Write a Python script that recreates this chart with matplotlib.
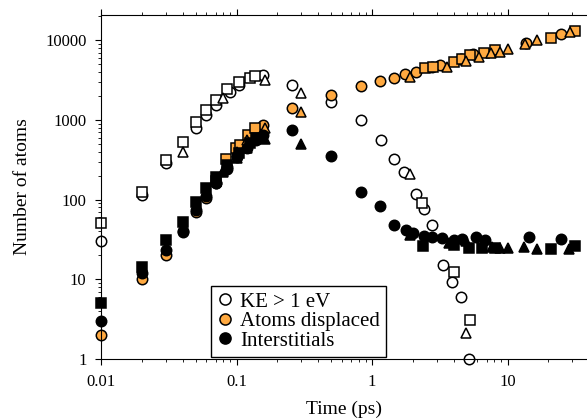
"""Number of atoms vs time (log-log): KE > 1 eV, atoms displaced, interstitials
for three runs (circle / square / triangle markers)."""

import matplotlib

matplotlib.use("Agg")
import matplotlib.pyplot as plt
from matplotlib.lines import Line2D

plt.rcParams["font.family"] = ["Liberation Serif", "DejaVu Serif"]

ORANGE = "#FFA940"

# KE > 1 eV (open markers)
ke_circle_t = [0.01, 0.02, 0.03, 0.05, 0.06, 0.07, 0.089, 0.105, 0.157, 0.257, 0.50,
               0.83, 1.16, 1.46, 1.73, 2.1, 2.4, 2.75, 3.33, 3.9, 4.54, 5.2]
ke_circle_n = [30, 115, 288, 784, 1150, 1540, 2260, 2740, 3650, 2740, 1690,
               997, 560, 323, 220, 117, 76, 48, 15, 9.2, 6.0, 1.0]
ke_square_t = [0.01, 0.02, 0.03, 0.04, 0.05, 0.06, 0.07, 0.085, 0.104, 0.125, 0.137,
               2.33, 4.0, 5.27]
ke_square_n = [51, 124, 314, 533, 950, 1330, 1780, 2420, 2950, 3390, 3530,
               90, 12.4, 3.1]
ke_tri_t = [0.04, 0.08, 0.162, 0.297, 1.9, 4.97]
ke_tri_n = [400, 1870, 3170, 2157, 208, 2.1]

# Atoms displaced (orange)
disp_circle_t = [0.01, 0.02, 0.03, 0.04, 0.05, 0.06, 0.07, 0.085, 0.10, 0.12, 0.14,
                 0.157, 0.257, 0.50, 0.83, 1.15, 1.46, 1.75, 2.1, 2.77, 3.2, 4.5,
                 5.6, 13.7, 24.8]
disp_circle_n = [2, 10, 20, 39, 70, 105, 160, 260, 380, 520, 680,
                 860, 1400, 2050, 2660, 3080, 3380, 3770, 4030, 4570, 4890, 5760,
                 6720, 9200, 11800]
disp_square_t = [0.07, 0.084, 0.099, 0.106, 0.122, 0.137, 2.45, 2.8, 4.0, 4.6,
                 5.27, 6.7, 8.1, 20.8, 31.3]
disp_square_n = [170, 320, 440, 484, 647, 784, 4440, 4650, 5400, 5760,
                 6510, 6840, 7550, 10800, 13200]
disp_tri_t = [0.08, 0.1, 0.12, 0.162, 0.297, 1.9, 3.6, 4.97, 6.2, 7.6, 8.8,
              10, 13.4, 16.5, 29]
disp_tri_n = [230, 400, 560, 797, 1270, 3410, 4650, 5530, 6100, 6990, 7210,
              7750, 9000, 9940, 12600]

# Interstitials (black)
int_circle_t = [0.01, 0.02, 0.03, 0.04, 0.05, 0.06, 0.07, 0.085, 0.10, 0.12, 0.14,
                0.157, 0.257, 0.50, 0.83, 1.14, 1.46, 1.78, 2.0, 2.4, 2.77, 3.3,
                4.0, 4.6, 5.9, 6.8, 14.3, 24.8]
int_circle_n = [3, 12, 23, 40, 75, 110, 160, 240, 340, 440, 560,
                647, 747, 352, 126, 83, 48, 41.5, 38, 35, 34, 33,
                31, 32, 34, 31, 33.6, 31.7]
int_square_t = [0.01, 0.02, 0.03, 0.04, 0.05, 0.06, 0.07, 0.085, 0.104, 0.125, 0.14,
                2.36, 4.0, 5.2, 6.5, 8.1, 20.8, 31.5]
int_square_n = [5.1, 14.4, 31, 52, 94, 138, 190, 270, 380, 520, 600,
                26, 27, 25, 25, 25, 24, 26]
int_tri_t = [0.08, 0.1, 0.12, 0.162, 0.30, 1.9, 3.7, 4.9, 7.7, 8.8, 10,
             13.2, 16.5, 28.5]
int_tri_n = [220, 330, 450, 570, 499, 36, 28.3, 30, 25.7, 25, 25,
             25.7, 23.7, 24]

series = [
    (ke_circle_t, ke_circle_n, "o", "white"),
    (ke_square_t, ke_square_n, "s", "white"),
    (ke_tri_t, ke_tri_n, "^", "white"),
    (disp_circle_t, disp_circle_n, "o", ORANGE),
    (disp_square_t, disp_square_n, "s", ORANGE),
    (disp_tri_t, disp_tri_n, "^", ORANGE),
    (int_circle_t, int_circle_n, "o", "black"),
    (int_square_t, int_square_n, "s", "black"),
    (int_tri_t, int_tri_n, "^", "black"),
]
sizes = {"o": 7.5, "s": 7.0, "^": 7.5}

fig = plt.figure(figsize=(5.87, 4.19), dpi=100)
ax = fig.add_axes([0.1721, 0.1432, 0.8279, 0.821])

for t, n, marker, face in series:
    ax.plot(t, n, linestyle="none", marker=marker, markersize=sizes[marker],
            markerfacecolor=face, markeredgecolor="black", markeredgewidth=1.1,
            clip_on=False)

ax.set_xscale("log")
ax.set_yscale("log")
ax.set_xlim(0.01, 38.6)
ax.set_ylim(1, 20700)
ax.set_xticks([0.01, 0.1, 1, 10])
ax.set_xticklabels(["0.01", "0.1", "1", "10"])
ax.set_yticks([1, 10, 100, 1000, 10000])
ax.set_yticklabels(["1", "10", "100", "1000", "10000"])
ax.spines["right"].set_visible(False)
ax.tick_params(which="both", direction="out", top=True, right=False, labelsize=12, pad=6)
ax.tick_params(which="major", length=4.5)
ax.tick_params(which="minor", length=2.5)
ax.set_xlabel("Time (ps)", fontsize=14, labelpad=8)
ax.set_ylabel("Number of atoms", fontsize=14, labelpad=10)

handles = [
    Line2D([], [], linestyle="none", marker="o", markersize=8, markerfacecolor=face,
           markeredgecolor="black", markeredgewidth=1.1)
    for face in ["white", ORANGE, "black"]
]
leg = ax.legend(handles, ["KE > 1 eV", "Atoms displaced", "Interstitials"],
                loc="lower left", bbox_to_anchor=(0.226, 0.006), borderaxespad=0,
                fontsize=15, frameon=True, fancybox=False, edgecolor="black",
                framealpha=1, handlelength=0.8, handletextpad=0.3, labelspacing=0.0,
                borderpad=0.3)
leg.get_frame().set_linewidth(1.0)

fig.savefig("out.png")
plt.close(fig)
